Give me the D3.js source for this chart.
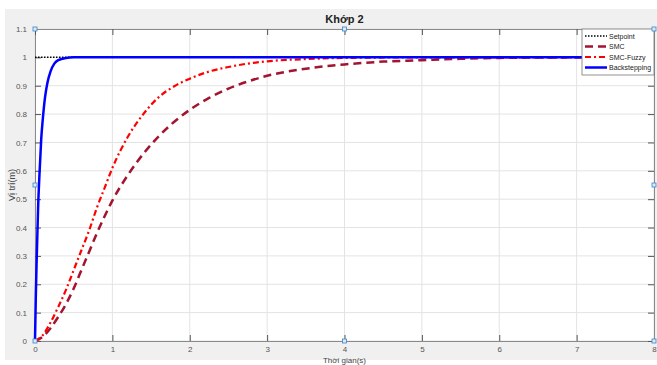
<!DOCTYPE html>
<html>
<head>
<meta charset="utf-8">
<script src="https://cdn.jsdelivr.net/npm/d3@7"></script>
<style>
  body { margin: 0; background: #fff; }
  svg { display: block; font-family: "Liberation Sans", Arial, sans-serif; }
</style>
</head>
<body>
<div id="chart"></div>
<script>
const width = 657;
const height = 365;
const margin = { left: 35, right: 3, top: 29, bottom: 24 };

// data
const xTicks = [0, 1, 2, 3, 4, 5, 6, 7, 8];
const yTicks = [0, 0.1, 0.2, 0.3, 0.4, 0.5, 0.6, 0.7, 0.8, 0.9, 1, 1.1];

const setpointT = [0, 8];
const setpointV = [1, 1];

const smcT = [0, 0.1, 0.2, 0.3, 0.4, 0.5, 0.6, 0.7, 0.8, 0.9, 1.0, 1.2, 1.4, 1.6, 1.8, 2.0, 2.25, 2.5, 2.75, 3.0, 3.5, 4.0, 4.5, 5.0, 5.5, 6, 7, 8];
const smcV = [0, 0.015, 0.045, 0.085, 0.13, 0.185, 0.25, 0.315, 0.38, 0.44, 0.495, 0.585, 0.66, 0.722, 0.773, 0.815, 0.857, 0.89, 0.915, 0.935, 0.96, 0.975, 0.985, 0.99, 0.995, 0.998, 1, 1];

const fuzzyT = [0, 0.1, 0.2, 0.3, 0.4, 0.5, 0.6, 0.7, 0.8, 0.9, 1.0, 1.2, 1.4, 1.6, 1.8, 2.0, 2.25, 2.5, 2.75, 3.0, 3.5, 4, 5, 8];
const fuzzyV = [0, 0.02, 0.065, 0.12, 0.18, 0.25, 0.32, 0.39, 0.47, 0.54, 0.61, 0.72, 0.8, 0.86, 0.898, 0.925, 0.95, 0.966, 0.978, 0.986, 0.994, 0.998, 1, 1];

const backT = [0, 0.01, 0.02, 0.04, 0.06, 0.08, 0.1, 0.13, 0.16, 0.2, 0.25, 0.3, 0.4, 0.5, 8];
const backV = [0, 0.15, 0.27, 0.47, 0.6, 0.71, 0.78, 0.86, 0.91, 0.95, 0.978, 0.99, 0.998, 1, 1];

const legendNames = ["Setpoint", "SMC", "SMC-Fuzzy", "Backstepping"];

const series = [
  { name: "Setpoint", t: setpointT, v: setpointV, color: "#000", w: 1.5, dash: "1.5,1.5" },
  { name: "SMC", t: smcT, v: smcV, color: "#a2142f", w: 2.5, dash: "8,5" },
  { name: "SMC-Fuzzy", t: fuzzyT, v: fuzzyV, color: "#ff0000", w: 2.2, dash: "6,3,2,3" },
  { name: "Backstepping", t: backT, v: backV, color: "#0000ff", w: 2.5, dash: null },
];

const svg = d3.select("#chart").append("svg")
  .attr("width", width)
  .attr("height", height);

// figure background
svg.append("rect")
  .attr("x", 5).attr("y", 9)
  .attr("width", width - 5).attr("height", 351)
  .attr("fill", "#f0f0f0");

const xScale = d3.scaleLinear().domain([0, 8]).range([margin.left, width - margin.right]);
const yScale = d3.scaleLinear().domain([0, 1.1]).range([height - margin.bottom, margin.top]);

// plot area
svg.append("rect")
  .attr("x", xScale(0)).attr("y", yScale(1.1))
  .attr("width", xScale(8) - xScale(0))
  .attr("height", yScale(0) - yScale(1.1))
  .attr("fill", "#fff");

// grid
svg.append("g")
  .selectAll("line")
  .data(xTicks)
  .enter()
  .append("line")
  .attr("x1", (d) => xScale(d)).attr("x2", (d) => xScale(d))
  .attr("y1", yScale(0)).attr("y2", yScale(1.1))
  .attr("stroke", "#e3e3e3");

svg.append("g")
  .selectAll("line")
  .data(yTicks)
  .enter()
  .append("line")
  .attr("y1", (d) => yScale(d)).attr("y2", (d) => yScale(d))
  .attr("x1", xScale(0)).attr("x2", xScale(8))
  .attr("stroke", "#e3e3e3");

// axes, ticks pointing inwards
const tickFmt = (d) => d3.format("~g")(d);

const xAxis = d3.axisBottom(xScale).tickValues(xTicks).tickSizeInner(-6).tickSizeOuter(0).tickPadding(5).tickFormat(tickFmt);
const yAxis = d3.axisLeft(yScale).tickValues(yTicks).tickSizeInner(-6).tickSizeOuter(0).tickPadding(8).tickFormat(tickFmt);
const xAxisTop = d3.axisTop(xScale).tickValues(xTicks).tickSizeInner(-6).tickSizeOuter(0).tickFormat("");
const yAxisRight = d3.axisRight(yScale).tickValues(yTicks).tickSizeInner(-6).tickSizeOuter(0).tickFormat("");

function styleAxis(g) {
  g.select(".domain").attr("stroke", "#8a8a8a");
  g.selectAll(".tick line").attr("stroke", "#555");
  g.selectAll(".tick text").attr("fill", "#555").style("font-size", "8px");
}

svg.append("g").attr("transform", `translate(0,${yScale(0)})`).call(xAxis).call(styleAxis);
svg.append("g").attr("transform", `translate(${xScale(0)},0)`).call(yAxis).call(styleAxis);
svg.append("g").attr("transform", `translate(0,${yScale(1.1)})`).call(xAxisTop).call(styleAxis);
svg.append("g").attr("transform", `translate(${xScale(8)},0)`).call(yAxisRight).call(styleAxis);

// lines
const line = d3.line()
  .x((d) => xScale(d[0]))
  .y((d) => yScale(d[1]))
  .curve(d3.curveMonotoneX);

const plot = svg.append("g");
series.forEach((s) => {
  plot.append("path")
    .datum(s.t.map((t, i) => [t, s.v[i]]))
    .attr("d", line)
    .attr("fill", "none")
    .attr("stroke", s.color)
    .attr("stroke-width", s.w)
    .attr("stroke-dasharray", s.dash);
});

// title and labels
svg.append("text")
  .attr("x", xScale(4)).attr("y", 23)
  .attr("text-anchor", "middle")
  .style("font-size", "11px").style("font-weight", "bold")
  .attr("fill", "#222")
  .text("Khớp 2");

svg.append("text")
  .attr("x", xScale(4)).attr("y", 363)
  .attr("text-anchor", "middle")
  .style("font-size", "8px")
  .attr("fill", "#444")
  .text("Thời gian(s)");

svg.append("text")
  .attr("transform", `translate(15,${yScale(0.55)}) rotate(-90)`)
  .attr("text-anchor", "middle")
  .style("font-size", "9px")
  .attr("fill", "#444")
  .text("Vị trí(m)");

// legend
const lg = svg.append("g").attr("transform", `translate(582,${yScale(1.1)})`);
lg.append("rect")
  .attr("width", xScale(8) - 582).attr("height", 46)
  .attr("fill", "#fff").attr("stroke", "#777").attr("stroke-width", 0.8);

series.forEach((s, i) => {
  const yy = 7 + i * 10.5;
  lg.append("line")
    .attr("x1", 3).attr("x2", 25)
    .attr("y1", yy).attr("y2", yy)
    .attr("stroke", s.color)
    .attr("stroke-width", s.w)
    .attr("stroke-dasharray", s.dash);
  lg.append("text")
    .attr("x", 27).attr("y", yy + 2.5)
    .style("font-size", "7px")
    .attr("fill", "#222")
    .text(legendNames[i]);
});

// edit handles on the axes box
const handles = [[0, 1.1], [4, 1.1], [8, 1.1], [0, 0.55], [8, 0.55], [0, 0], [4, 0], [8, 0]];
svg.append("g")
  .selectAll("rect")
  .data(handles)
  .enter()
  .append("rect")
  .attr("x", (d) => xScale(d[0]) - 2)
  .attr("y", (d) => yScale(d[1]) - 2)
  .attr("width", 4).attr("height", 4)
  .attr("fill", "#dcebf7")
  .attr("stroke", "#3a86c8")
  .attr("stroke-width", 0.8);
</script>
</body>
</html>
